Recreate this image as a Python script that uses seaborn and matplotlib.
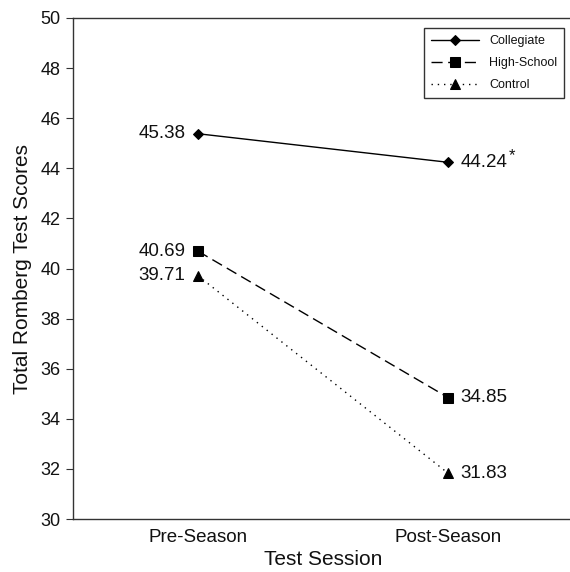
import numpy as np
import pandas as pd
import matplotlib
matplotlib.use('Agg')
import matplotlib.pyplot as plt
import seaborn as sns

sessions = ['Pre-Season', 'Post-Season']
groups = ['Collegiate', 'High-School', 'Control']
collegiate = [45.38, 44.24]
high_school = [40.69, 34.85]
control = [39.71, 31.83]

values = {'Collegiate': collegiate, 'High-School': high_school, 'Control': control}
markers = {'Collegiate': 'D', 'High-School': 's', 'Control': '^'}
msizes = {'Collegiate': 5, 'High-School': 7, 'Control': 7}
lstyles = {'Collegiate': '-', 'High-School': (0, (8, 4)), 'Control': (0, (1, 3.5))}

sns.set_style('ticks')
plt.rcParams['font.family'] = ['Liberation Sans', 'DejaVu Sans']
plt.rcParams['text.color'] = '#111111'
plt.rcParams['axes.labelcolor'] = '#111111'
plt.rcParams['xtick.color'] = '#111111'
plt.rcParams['ytick.color'] = '#333333'
plt.rcParams['ytick.labelcolor'] = '#111111'

fig = plt.figure(figsize=(5.70, 5.72), dpi=100)
# axes runs a little past the right edge of the figure, as in the reference
ax = fig.add_axes([73 / 570, 1 - 519 / 572, 500 / 570, (519 - 18) / 572])

rows = []
for g in groups:
    for i, s in enumerate(sessions):
        rows.append({'Group': g, 'x': i, 'Score': values[g][i]})
df = pd.DataFrame(rows)

for g in groups:
    sub = df[df['Group'] == g]
    sns.lineplot(data=sub, x='x', y='Score', ax=ax, color='black', lw=1,
                 linestyle=lstyles[g], marker=markers[g], markersize=msizes[g],
                 markeredgecolor='black', markerfacecolor='black', label=g)

for g in groups:
    v = values[g]
    ax.annotate(f'{v[0]:.2f}', (0, v[0]), xytext=(-9, 0), textcoords='offset points',
                ha='right', va='center', fontsize=13.5)
    ax.annotate(f'{v[1]:.2f}', (1, v[1]), xytext=(9, 0), textcoords='offset points',
                ha='left', va='center', fontsize=13.5)

ax.annotate('*', (1, collegiate[1]), xytext=(44, 5), textcoords='offset points',
            ha='left', va='center', fontsize=12)

ax.set_xlim(-0.5, 1.5)
ax.set_ylim(30, 50)
ax.set_yticks(np.arange(30, 51, 2))
ax.set_xticks([0, 1])
ax.set_xticklabels(sessions)
ax.tick_params(axis='x', length=0, labelsize=13.5, pad=7)
ax.tick_params(axis='y', length=5, width=0.8, labelsize=13, pad=4, direction='out')
ax.set_xlabel('Test Session', fontsize=15, labelpad=3)
ax.set_ylabel('Total Romberg Test Scores', fontsize=15, labelpad=6)
for sp in ax.spines.values():
    sp.set_linewidth(1)
    sp.set_color('#333333')

leg = ax.legend(loc='upper right', bbox_to_anchor=(0.982, 0.98), borderaxespad=0,
                fontsize=9, frameon=True, fancybox=False, edgecolor='black',
                handlelength=3.85, borderpad=0.55, labelspacing=0.8, handletextpad=0.8)
leg.get_frame().set_linewidth(1)

fig.savefig('out.png', dpi=100)
